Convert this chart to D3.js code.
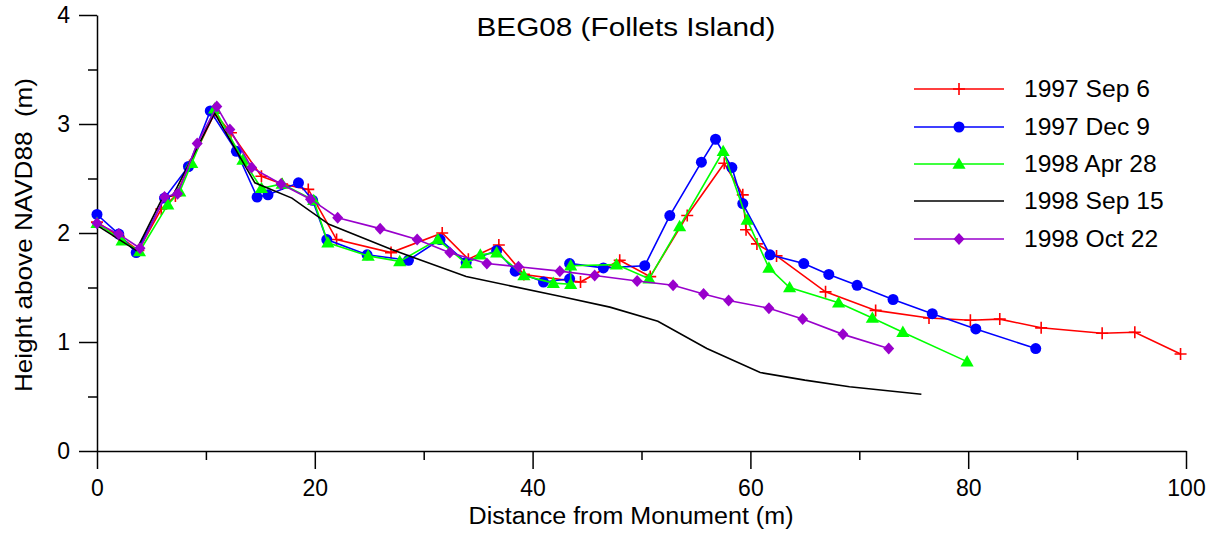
<!DOCTYPE html>
<html><head><meta charset="utf-8">
<script src="https://cdn.jsdelivr.net/npm/d3@7"></script>
<style>
body{margin:0;background:#fff;}
text{font-family:Arial,"Liberation Sans",sans-serif;fill:#000;}
</style></head>
<body><svg id="c" width="1220" height="540"></svg>
<script>
const seriesNames = ["1997 Sep 6","1997 Dec 9","1998 Apr 28","1998 Sep 15","1998 Oct 22"];
const seriesColors = ["#ff0000","#0000ff","#00ff00","#000000","#9900cc"];
const seriesMarkers = ["plus","circle","triangle","none","diamond"];

const sep97X = [0,2.0,3.8,5.9,7.2,8.5,10.8,12.3,15.1,17.0,19.4,22.0,27.0,31.7,34.1,36.9,39.2,44.4,48.0,50.8,54.2,57.6,59.3,59.6,60.6,62.4,66.9,71.5,76.4,80.2,82.9,86.7,92.3,95.3,99.5];
const sep97Y = [2.10,1.97,1.84,2.22,2.34,2.62,3.10,2.92,2.52,2.45,2.40,1.94,1.82,2.00,1.76,1.89,1.62,1.55,1.75,1.60,2.16,2.64,2.35,2.03,1.90,1.79,1.46,1.29,1.22,1.20,1.21,1.13,1.08,1.09,0.89];

const dec97X = [0,2.0,3.6,6.2,8.4,10.4,12.8,14.7,15.7,18.5,19.8,21.1,24.8,28.6,31.5,33.9,36.7,38.4,41.0,43.4,43.4,46.5,50.3,52.6,55.5,56.8,58.3,59.3,61.8,64.9,67.2,69.8,73.1,76.7,80.7,86.2];
const dec97Y = [2.17,1.99,1.82,2.32,2.61,3.12,2.75,2.33,2.35,2.46,2.30,1.94,1.80,1.75,1.94,1.73,1.84,1.65,1.55,1.58,1.72,1.68,1.70,2.16,2.65,2.86,2.60,2.27,1.80,1.72,1.62,1.52,1.39,1.26,1.12,0.94];

const apr98X = [0,2.3,3.9,6.5,7.6,8.7,10.8,13.4,15.1,17.0,19.9,21.2,24.9,27.8,31.3,33.9,35.2,36.7,39.2,41.9,43.5,43.5,47.7,50.7,53.5,57.5,59.7,61.7,63.6,68.1,71.2,74.0,79.9];
const apr98Y = [2.09,1.93,1.83,2.26,2.38,2.64,3.14,2.67,2.41,2.45,2.30,1.91,1.79,1.74,1.94,1.72,1.80,1.82,1.61,1.54,1.53,1.70,1.71,1.58,2.06,2.75,2.12,1.68,1.50,1.36,1.22,1.09,0.82];

const sep98X = [0,3.6,5.9,7.0,10.8,14.5,17.9,21.3,27.0,33.9,42.5,47.1,51.5,56.0,60.9,65.0,69.1,75.7];
const sep98Y = [2.07,1.84,2.30,2.35,3.10,2.46,2.32,2.08,1.85,1.60,1.42,1.32,1.19,0.94,0.72,0.65,0.59,0.52];

const oct98X = [0,2.0,3.95,6.2,7.4,9.2,11.0,12.2,14.2,16.9,19.6,22.1,26.0,29.4,32.4,35.8,38.7,42.5,45.7,49.6,52.9,55.7,58.0,61.7,64.8,68.5,72.7];
const oct98Y = [2.09,1.99,1.86,2.33,2.36,2.82,3.16,2.95,2.60,2.45,2.31,2.14,2.04,1.94,1.82,1.72,1.69,1.65,1.61,1.56,1.52,1.44,1.38,1.31,1.21,1.07,0.94];

const xMajorTicks = [0,20,40,60,80,100];
const xMinorTicks = [10,30,50,70,90];
const yMajorTicks = [0,1,2,3,4];
const yMinorTicks = [0.5,1.5,2.5,3.5];

const titleText = "BEG08 (Follets Island)";
const xLabel = "Distance from Monument (m)";
const yLabel = "Height above NAVD88\u00a0\u00a0(m)";

const seriesX = [sep97X,dec97X,apr98X,sep98X,oct98X];
const seriesY = [sep97Y,dec97Y,apr98Y,sep98Y,oct98Y];

const svg = d3.select("#c");
const x = d3.scaleLinear().domain([0,100]).range([97,1186]);
const y = d3.scaleLinear().domain([0,4]).range([451,15]);

// axes
svg.append("g").attr("transform","translate(0,451)")
  .call(d3.axisBottom(x).tickValues(xMajorTicks).tickSize(18).tickSizeOuter(0).tickPadding(11).tickFormat(d3.format("d")));
svg.append("g").attr("transform","translate(0,451)")
  .call(d3.axisBottom(x).tickValues(xMinorTicks).tickSize(9).tickSizeOuter(0).tickFormat(""))
  .select(".domain").remove();
svg.append("g").attr("transform","translate(97,0)")
  .call(d3.axisLeft(y).tickValues(yMajorTicks).tickSize(18).tickSizeOuter(0).tickPadding(9).tickFormat(d3.format("d")));
svg.append("g").attr("transform","translate(97,0)")
  .call(d3.axisLeft(y).tickValues(yMinorTicks).tickSize(9).tickSizeOuter(0).tickFormat(""))
  .select(".domain").remove();
svg.selectAll(".tick text").style("font-size","23px").style("font-family","Arial, 'Liberation Sans', sans-serif");
svg.selectAll(".tick line, .domain").attr("stroke","#000").attr("stroke-width",1.5);

function stretchTo(sel, width){
  sel.attr("textLength",width).attr("lengthAdjust","spacingAndGlyphs");
}
function stretchBy(sel, f){
  const w = sel.node().getComputedTextLength();
  sel.attr("textLength",w*f).attr("lengthAdjust","spacingAndGlyphs");
}

const t = svg.append("text").attr("x",626).attr("y",36).attr("text-anchor","middle").style("font-size","25px").text(titleText);
stretchTo(t,299);
const xl = svg.append("text").attr("x",631).attr("y",524).attr("text-anchor","middle").style("font-size","23px").text(xLabel);
stretchTo(xl,325);
const yl = svg.append("text").attr("transform","translate(32,235) rotate(-90)").attr("text-anchor","middle").style("font-size","24px").text(yLabel);
stretchTo(yl,314);

function drawMarker(g, type, cx, cy, color){
  if(type==="plus"){
    g.append("path").attr("d",`M${cx-6},${cy}H${cx+6}M${cx},${cy-6}V${cy+6}`).attr("stroke",color).attr("stroke-width",1.6).attr("fill","none");
  } else if(type==="circle"){
    g.append("circle").attr("cx",cx).attr("cy",cy).attr("r",5.5).attr("fill",color);
  } else if(type==="triangle"){
    g.append("path").attr("d",d3.symbol(d3.symbolTriangle,75)()).attr("transform",`translate(${cx},${cy+1})`).attr("fill",color);
  } else if(type==="diamond"){
    g.append("path").attr("d",`M${cx},${cy-6}L${cx+5.5},${cy}L${cx},${cy+6}L${cx-5.5},${cy}Z`).attr("fill",color);
  }
}

const line = d3.line().x(d=>x(d[0])).y(d=>y(d[1]));
seriesNames.forEach((name,i)=>{
  const pts = seriesX[i].map((v,j)=>[v,seriesY[i][j]]);
  const g = svg.append("g");
  g.append("path").datum(pts).attr("d",line).attr("fill","none").attr("stroke",seriesColors[i]).attr("stroke-width",1.6);
  pts.forEach(p=>drawMarker(g,seriesMarkers[i],x(p[0]),y(p[1]),seriesColors[i]));
});

// legend
const legY = [89,127,164,201,239];
seriesNames.forEach((name,i)=>{
  const g = svg.append("g");
  g.append("line").attr("x1",914).attr("x2",1004).attr("y1",legY[i]).attr("y2",legY[i]).attr("stroke",seriesColors[i]).attr("stroke-width",1.6);
  drawMarker(g,seriesMarkers[i],959,legY[i],seriesColors[i]);
  const tx = g.append("text").attr("x",1024).attr("y",legY[i]).attr("dy","0.36em").style("font-size","23px").text(name);
  stretchBy(tx,1.07);
});
</script></body></html>
